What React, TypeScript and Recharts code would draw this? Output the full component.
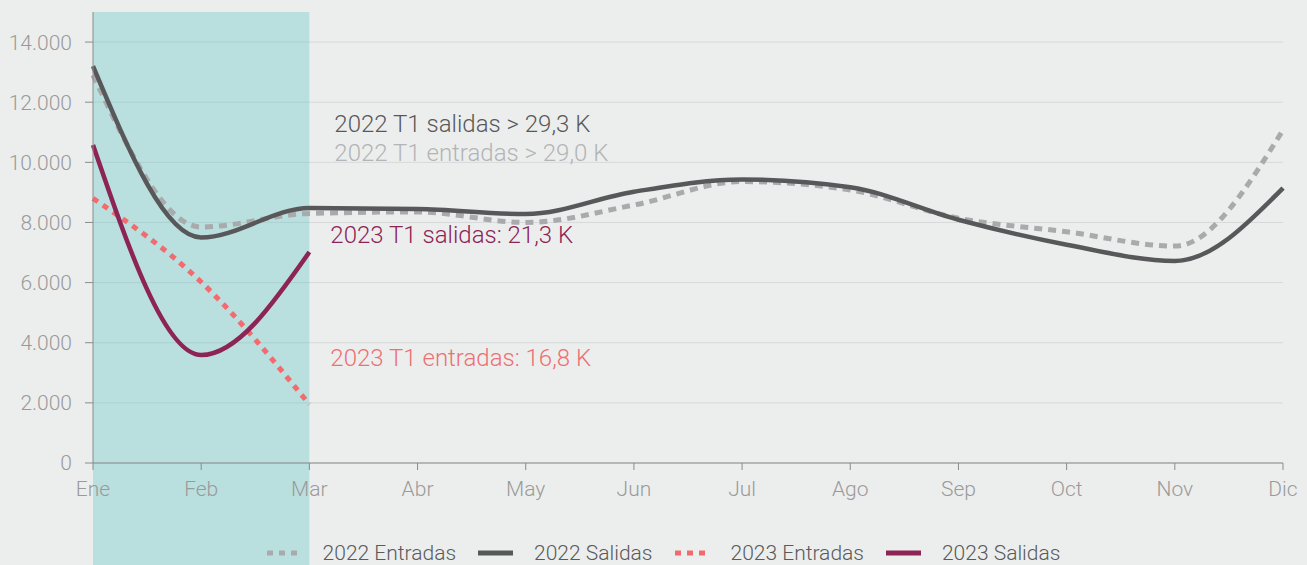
import React from 'react';
import {
  LineChart,
  Line,
  XAxis,
  YAxis,
  CartesianGrid,
  ReferenceArea,
  ReferenceDot,
  Legend,
} from 'recharts';

const months = ['Ene', 'Feb', 'Mar', 'Abr', 'May', 'Jun', 'Jul', 'Ago', 'Sep', 'Oct', 'Nov', 'Dic'];
const entradas2022 = [12900, 7850, 8300, 8350, 8000, 8580, 9360, 9080, 8140, 7690, 7215, 11075];
const salidas2022 = [13200, 7500, 8480, 8450, 8280, 9020, 9430, 9170, 8090, 7260, 6720, 9145];
const entradas2023: (number | null)[] = [8800, 6020, 1950];
const salidas2023: (number | null)[] = [10575, 3590, 7015];
const yTicks = [0, 2000, 4000, 6000, 8000, 10000, 12000, 14000];

const annotations = [
  { text: '2022 T1 salidas > 29,3 K', y: 11280, dx: 25, color: '#58585a' },
  { text: '2022 T1 entradas > 29,0 K', y: 10300, dx: 25, color: '#b3b4b5' },
  { text: '2023 T1 salidas: 21,3 K', y: 7580, dx: 21, color: '#8c2455' },
  { text: '2023 T1 entradas: 16,8 K', y: 3500, dx: 21, color: '#ef6f73' },
];

const data = months.map((m, i) => ({
  month: m,
  e22: entradas2022[i],
  s22: salidas2022[i],
  e23: entradas2023[i] ?? null,
  s23: salidas2023[i] ?? null,
}));

const FONT = 'Roboto, "Noto Sans", sans-serif';

const series = [
  { key: 'e22', name: '2022 Entradas', color: '#a9aaac', dash: '8 6', width: 5 },
  { key: 's22', name: '2022 Salidas', color: '#58585a', dash: undefined, width: 4.5 },
  { key: 'e23', name: '2023 Entradas', color: '#f16b6f', dash: '6 6', width: 5 },
  { key: 's23', name: '2023 Salidas', color: '#8c2455', dash: undefined, width: 4.5 },
];

const fmt = (v: number) => String(v).replace(/\B(?=(\d{3})+(?!\d))/g, '.');

const TealShape = (props: any) => {
  const { x, y, width, height } = props;
  return <rect x={x} y={y} width={width} height={height + 102} fill="#5fc2c7" fillOpacity={0.35} />;
};

const LegendContent = () => (
  <div
    style={{
      display: 'flex',
      justifyContent: 'center',
      alignItems: 'center',
      height: 24,
      fontFamily: FONT,
      fontWeight: 300,
      fontSize: 21,
      color: '#5a5a5a',
      paddingLeft: 44,
    }}
  >
    {series.map((s, i) => (
      <div
        key={s.key}
        style={{ display: 'flex', alignItems: 'center', marginRight: i === series.length - 1 ? 0 : 22 }}
      >
        <svg width={35} height={10} style={{ marginRight: 21 }}>
          <line x1={0} y1={5} x2={35} y2={5} stroke={s.color} strokeWidth={5} strokeDasharray={s.dash ? '6 6' : undefined} />
        </svg>
        <span>{s.name}</span>
      </div>
    ))}
  </div>
);

export default function App() {
  return (
    <div style={{ width: 1307, height: 565, background: '#eceeed' }}>
      <style>{`body{margin:0;background:#eceeed;}`}</style>
      <LineChart width={1307} height={565} data={data} margin={{ top: 12, right: 24, left: 0, bottom: 0 }}>
        <ReferenceArea x1="Ene" x2="Mar" y1={0} y2={15000} shape={<TealShape />} />
        <CartesianGrid vertical={false} stroke="#d6d9d8" strokeWidth={1} horizontalValues={yTicks} />
        <XAxis
          dataKey="month"
          height={78}
          interval={0}
          stroke="#8a8a8a"
          tickSize={7}
          tickMargin={11}
          tick={{ fill: '#9a9a9a', fontSize: 21, fontFamily: FONT, fontWeight: 300 }}
        />
        <YAxis
          width={93}
          domain={[0, 15000]}
          ticks={yTicks}
          tickFormatter={fmt}
          stroke="#8a8a8a"
          tickSize={8}
          tickMargin={13}
          tick={{ fill: '#9a9a9a', fontSize: 21, fontFamily: FONT, fontWeight: 300 }}
        />
        {series.map((s) => (
          <Line
            key={s.key}
            type="monotone"
            dataKey={s.key}
            name={s.name}
            stroke={s.color}
            strokeWidth={s.width}
            strokeDasharray={s.dash}
            dot={false}
            activeDot={false}
            connectNulls={false}
            isAnimationActive={false}
          />
        ))}
        {annotations.map((a) => (
          <ReferenceDot
            key={a.text}
            x="Mar"
            y={a.y}
            r={1}
            fill="none"
            stroke="none"
            label={(p: any) => (
              <text
                x={p.viewBox.x + 1 + a.dx}
                y={p.viewBox.y + 1}
                dominantBaseline="central"
                fill={a.color}
                fontSize={24}
                fontFamily={FONT}
                fontWeight={300}
              >
                {a.text}
              </text>
            )}
          />
        ))}
        <Legend verticalAlign="bottom" content={<LegendContent />} />
      </LineChart>
    </div>
  );
}
